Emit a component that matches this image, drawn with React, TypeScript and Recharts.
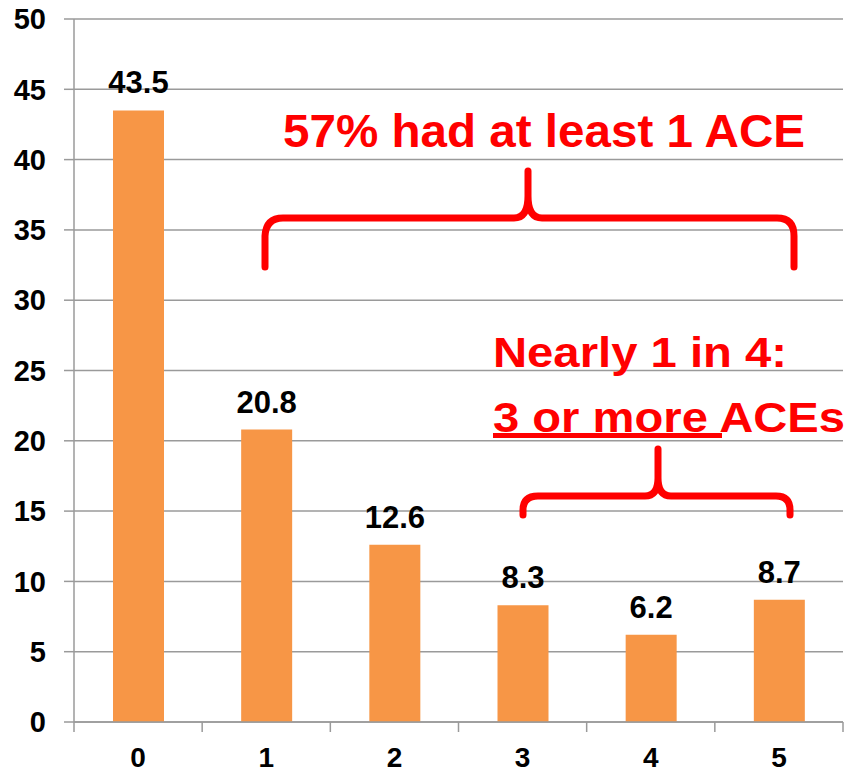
import React from 'react';
import { BarChart, Bar, XAxis, YAxis, CartesianGrid, LabelList } from 'recharts';

const categories = ['0', '1', '2', '3', '4', '5'];
const values = [43.5, 20.8, 12.6, 8.3, 6.2, 8.7];
const yTicks = [0, 5, 10, 15, 20, 25, 30, 35, 40, 45, 50];

const data = categories.map((c, i) => ({ name: c, value: values[i] }));

const W = 850;
const H = 775;
const M_TOP = 19;
const M_RIGHT = 7;
const Y_W = 74;
const X_H = 53;
const PLOT_LEFT = Y_W;
const PLOT_RIGHT = W - M_RIGHT;
const PLOT_BOTTOM = H - X_H;

const FONT = '"Liberation Sans", Arial, Helvetica, sans-serif';
const GRAY = '#9a9a9a';
const RED = '#FF0000';

const boundaryX = (i: number) => PLOT_LEFT + ((PLOT_RIGHT - PLOT_LEFT) * i) / categories.length;

export default function App() {
  return (
    <div style={{ position: 'absolute', left: 0, top: 0, width: W, height: H, background: '#fff' }}>
      <BarChart
        width={W}
        height={H}
        data={data}
        margin={{ top: M_TOP, right: M_RIGHT, left: 0, bottom: 0 }}
        barCategoryGap={0}
      >
        <CartesianGrid vertical={false} stroke={GRAY} strokeWidth={1.5} />
        <XAxis
          dataKey="name"
          height={X_H}
          axisLine={{ stroke: GRAY, strokeWidth: 1.5 }}
          tickLine={false}
          tickSize={0}
          tickMargin={25}
          tick={{ fill: '#000', fontSize: 28, fontWeight: 'bold', fontFamily: FONT }}
        />
        <YAxis
          width={Y_W}
          domain={[0, 50]}
          ticks={yTicks}
          interval={0}
          axisLine={{ stroke: GRAY, strokeWidth: 1.5 }}
          tickLine={{ stroke: GRAY, strokeWidth: 1.5 }}
          tickSize={10}
          tickMargin={18}
          tick={{ fill: '#000', fontSize: 29, fontWeight: 'bold', fontFamily: FONT }}
        />
        <Bar dataKey="value" fill="#F79646" barSize={51} isAnimationActive={false}>
          <LabelList
            dataKey="value"
            position="top"
            offset={17}
            style={{ fill: '#000', fontSize: 31, fontWeight: 'bold', fontFamily: FONT }}
          />
        </Bar>
      </BarChart>
      <svg
        width={W}
        height={H}
        style={{ position: 'absolute', left: 0, top: 0, pointerEvents: 'none' }}
      >
        {Array.from({ length: categories.length + 1 }, (_, i) => (
          <line
            key={i}
            x1={boundaryX(i)}
            x2={boundaryX(i)}
            y1={PLOT_BOTTOM}
            y2={PLOT_BOTTOM + 10}
            stroke={GRAY}
            strokeWidth={1.5}
          />
        ))}
        <text
          x={283}
          y={147}
          fill={RED}
          fontSize={47}
          fontWeight="bold"
          fontFamily={FONT}
          textLength={522}
          lengthAdjust="spacingAndGlyphs"
        >
          57% had at least 1 ACE
        </text>
        <path
          d="M 265 267 L 265 236 Q 266 218 283 218 L 514 218 Q 528 218 528 196 L 528 171 M 528 196 Q 528 218 542 218 L 777 218 Q 794 218 794 236 L 794 267"
          fill="none"
          stroke={RED}
          strokeWidth={7}
          strokeLinecap="round"
          strokeLinejoin="round"
        />
        <text
          x={493}
          y={367}
          fill={RED}
          fontSize={43}
          fontWeight="bold"
          fontFamily={FONT}
          textLength={294}
          lengthAdjust="spacingAndGlyphs"
        >
          Nearly 1 in 4:
        </text>
        <text
          x={493}
          y={432}
          fill={RED}
          fontSize={43}
          fontWeight="bold"
          fontFamily={FONT}
          textLength={352}
          lengthAdjust="spacingAndGlyphs"
        >
          3 or more ACEs
        </text>
        <line x1={493} x2={722} y1={435.5} y2={435.5} stroke={RED} strokeWidth={5} />
        <path
          d="M 523 515 L 523 510 Q 523 496 538 496 L 645 496 Q 658 496 658 478 L 658 449 M 658 478 Q 658 496 671 496 L 776 496 Q 790 496 790 510 L 790 515"
          fill="none"
          stroke={RED}
          strokeWidth={7}
          strokeLinecap="round"
          strokeLinejoin="round"
        />
      </svg>
    </div>
  );
}
